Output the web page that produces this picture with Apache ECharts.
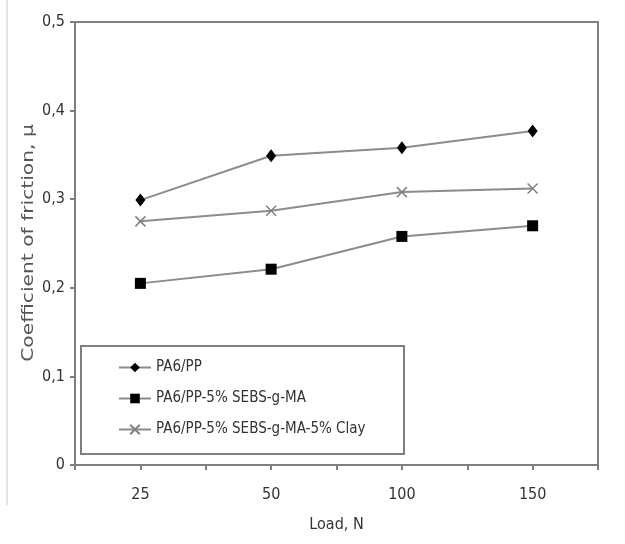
<!DOCTYPE html>
<html>
<head>
<meta charset="utf-8">
<script src="https://cdn.jsdelivr.net/npm/echarts@6/dist/echarts.min.js"></script>
<style>
  html, body { margin: 0; padding: 0; background: #fff; }
  #chart { width: 625px; height: 544px; }
</style>
</head>
<body>
<div id="chart"></div>
<script>
// data
var loads = ['25', '50', '100', '150'];
var pa6pp = [0.299, 0.349, 0.358, 0.377];
var sebs = [0.205, 0.221, 0.258, 0.270];
var clay = [0.275, 0.287, 0.308, 0.312];
var yTicks = [0, 0.1, 0.2, 0.3, 0.4, 0.5];

var FONT = '"DejaVu Sans Condensed", "Liberation Sans Narrow", "Liberation Sans", Arial, sans-serif';
var AXIS = '#7f7f7f';
var LINE = '#8c8c8c';

function setChart(id) {
    var myChart = echarts.init(document.getElementById(id));
    var option = {
        animation: false,
        grid: { left: 75, right: 27, top: 22, bottom: 79, show: true, borderColor: AXIS, borderWidth: 2 },
        graphic: [
            { type: 'line', shape: { x1: 7, y1: 0, x2: 7, y2: 505 }, style: { stroke: '#c8c8c8', lineWidth: 1 } },
            { type: 'rect', shape: { x: 81, y: 346, width: 323, height: 108 }, style: { fill: '#fff', stroke: AXIS, lineWidth: 2 }, z: 5 },
            // y axis title, stretched along its length like the source image
            {
                type: 'text', x: 29, y: 243, rotation: Math.PI / 2, scaleX: 1.5, scaleY: 1.05,
                style: { text: 'Coefficient of friction, μ', fontFamily: FONT, fontSize: 15, fill: '#555', align: 'center', verticalAlign: 'middle' }
            }
        ],
        legend: {
            orient: 'vertical',
            left: 113, top: 355,
            itemGap: 16,
            itemWidth: 32, itemHeight: 12,
            z: 10,
            textStyle: { fontFamily: FONT, fontSize: 15, color: '#333' },
            data: ['PA6/PP', 'PA6/PP-5% SEBS-g-MA', 'PA6/PP-5% SEBS-g-MA-5% Clay']
        },
        xAxis: [{
            type: 'category',
            data: loads,
            boundaryGap: true,
            name: 'Load, N',
            nameLocation: 'middle',
            nameGap: 52,
            nameTextStyle: { fontFamily: FONT, fontSize: 16, color: '#333' },
            axisLine: { lineStyle: { color: AXIS, width: 2 } },
            axisTick: { show: true, length: 5, lineStyle: { color: AXIS, width: 2 } },
            axisLabel: { margin: 22, fontFamily: FONT, fontSize: 16, color: '#333' },
            splitLine: { show: false }
        }, {
            type: 'category',
            data: loads,
            position: 'bottom',
            boundaryGap: true,
            axisLine: { show: false },
            axisTick: { show: true, alignWithLabel: true, length: 5, lineStyle: { color: AXIS, width: 2 } },
            axisLabel: { show: false },
            splitLine: { show: false }
        }],
        yAxis: {
            type: 'value',
            min: yTicks[0],
            max: yTicks[yTicks.length - 1],
            interval: 0.1,
            axisLine: { show: true, lineStyle: { color: AXIS, width: 2 } },
            axisTick: { show: true, length: 5, lineStyle: { color: AXIS, width: 2 } },
            axisLabel: {
                margin: 10, fontFamily: FONT, fontSize: 16, color: '#333',
                formatter: function (v) { return v === 0 ? '0' : v.toFixed(1).replace('.', ','); }
            },
            splitLine: { show: false }
        },
        series: [{
            name: 'PA6/PP',
            type: 'line',
            data: pa6pp,
            symbol: 'diamond',
            symbolSize: [10, 13],
            lineStyle: { color: LINE, width: 2 },
            itemStyle: { color: '#000' }
        }, {
            name: 'PA6/PP-5% SEBS-g-MA',
            type: 'line',
            data: sebs,
            symbol: 'rect',
            symbolSize: 11,
            lineStyle: { color: LINE, width: 2 },
            itemStyle: { color: '#000' }
        }, {
            name: 'PA6/PP-5% SEBS-g-MA-5% Clay',
            type: 'line',
            data: clay,
            symbol: 'path://M0,0L10,10M10,0L0,10',
            symbolSize: 10,
            lineStyle: { color: LINE, width: 2 },
            itemStyle: { color: 'rgba(0,0,0,0)', borderColor: '#808080', borderWidth: 1.5 }
        }]
    };
    myChart.setOption(option);
    window.onresize = myChart.resize;
}

setChart('chart');
</script>
</body>
</html>
